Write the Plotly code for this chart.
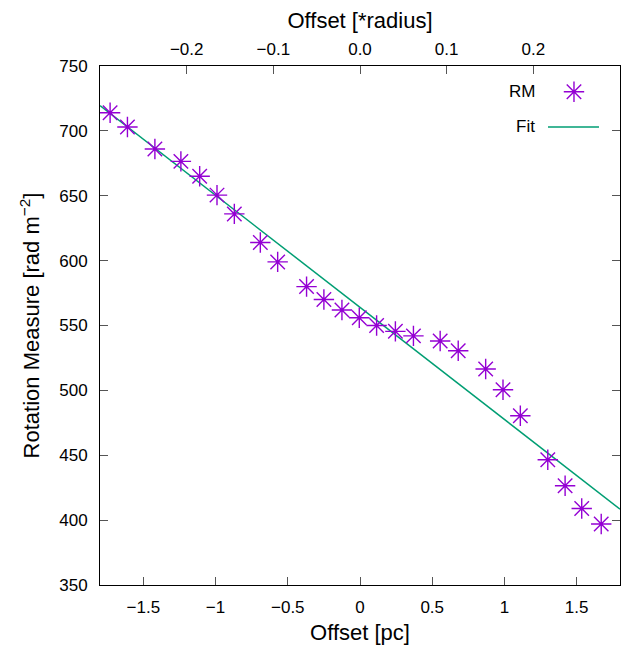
import plotly.graph_objects as go

# DATA
offset_pc = [-1.73, -1.61, -1.42, -1.24, -1.11, -0.99, -0.87, -0.69, -0.57, -0.37,
             -0.25, -0.125, -0.005, 0.115, 0.245, 0.37, 0.555, 0.68, 0.87, 0.99,
             1.11, 1.30, 1.42, 1.535, 1.67]
rm = [714, 703, 686, 676.5, 665, 650.5, 636, 614, 599, 580,
      570, 562, 556, 550, 545.5, 542, 538, 530.5, 516.5, 500.5,
      480.5, 446.5, 426.5, 409, 397]
fit_x = [-1.8, 1.8]
fit_y = [719.5, 408.5]
radius_pc = 6.0  # top axis = offset / radius

x_ticks = [-1.5, -1, -0.5, 0, 0.5, 1, 1.5]
x2_ticks = [-0.2, -0.1, 0.0, 0.1, 0.2]
y_ticks = [350, 400, 450, 500, 550, 600, 650, 700, 750]

FONT = "Liberation Sans, Arial, sans-serif"
PURPLE = "#9400d3"
GREEN = "#009e73"

fig = go.Figure()
fig.add_trace(go.Scatter(x=fit_x, y=fit_y, mode='lines', name='Fit',
                         line=dict(color=GREEN, width=1.5), showlegend=False))
fig.add_trace(go.Scatter(x=offset_pc, y=rm, mode='markers', name='RM',
                         marker=dict(symbol='asterisk', size=17,
                                     line=dict(color=PURPLE, width=1.4)),
                         showlegend=False))
# invisible trace so the top (radius) axis is drawn
fig.add_trace(go.Scatter(x=[v / radius_pc for v in offset_pc], y=rm, xaxis='x2',
                         mode='markers', marker=dict(opacity=0), hoverinfo='skip',
                         showlegend=False))
# legend key marker on a hidden 0..1 axis
fig.add_trace(go.Scatter(x=[0.9115], y=[0.9505], xaxis='x3', yaxis='y3', mode='markers',
                         marker=dict(symbol='asterisk', size=17,
                                     line=dict(color=PURPLE, width=1.4)),
                         hoverinfo='skip', showlegend=False))

axis_common = dict(showline=True, linecolor='black', linewidth=1, ticks='inside',
                   ticklen=8, tickcolor='#555555', showgrid=False, zeroline=False,
                   automargin=False,
                   tickfont=dict(family=FONT, size=17, color='black'))

# page body adds an 8px margin, so the figure is 8px smaller than the window
fig.update_layout(
    width=625, height=642,
    margin=dict(l=92, r=13, t=58, b=65),
    plot_bgcolor='white', paper_bgcolor='white',
    font=dict(family=FONT, color='black'),
    xaxis=dict(range=[-1.8, 1.8], tickvals=x_ticks, mirror=True,
               title=dict(text='Offset [pc]', font=dict(size=22), standoff=8),
               ticklabelstandoff=7, **axis_common),
    xaxis2=dict(range=[-1.8 / radius_pc, 1.8 / radius_pc], tickvals=x2_ticks,
                tickformat='.1f', overlaying='x', side='top',
                title=dict(text='Offset [*radius]', font=dict(size=22), standoff=8),
                ticklabelstandoff=3, **axis_common),
    yaxis=dict(range=[350, 750], tickvals=y_ticks, mirror='ticks',
               title=dict(text='Rotation Measure [rad m<sup>\u22122</sup>]',
                          font=dict(size=22), standoff=13),
               ticklabelstandoff=8, **axis_common),
    xaxis3=dict(range=[0, 1], overlaying='x', visible=False),
    yaxis3=dict(range=[0, 1], overlaying='y', visible=False),
    shapes=[dict(type='line', xref='paper', yref='paper', x0=0.8615, x1=0.9596,
                 y0=0.8825, y1=0.8825, line=dict(color=GREEN, width=1.5))],
    annotations=[
        dict(text='RM', xref='paper', yref='paper', x=0.84, y=0.9505,
             xanchor='right', yanchor='middle', showarrow=False,
             font=dict(family=FONT, size=17)),
        dict(text='Fit', xref='paper', yref='paper', x=0.84, y=0.8825,
             xanchor='right', yanchor='middle', showarrow=False,
             font=dict(family=FONT, size=17)),
    ],
)

fig.write_html("out.html")
